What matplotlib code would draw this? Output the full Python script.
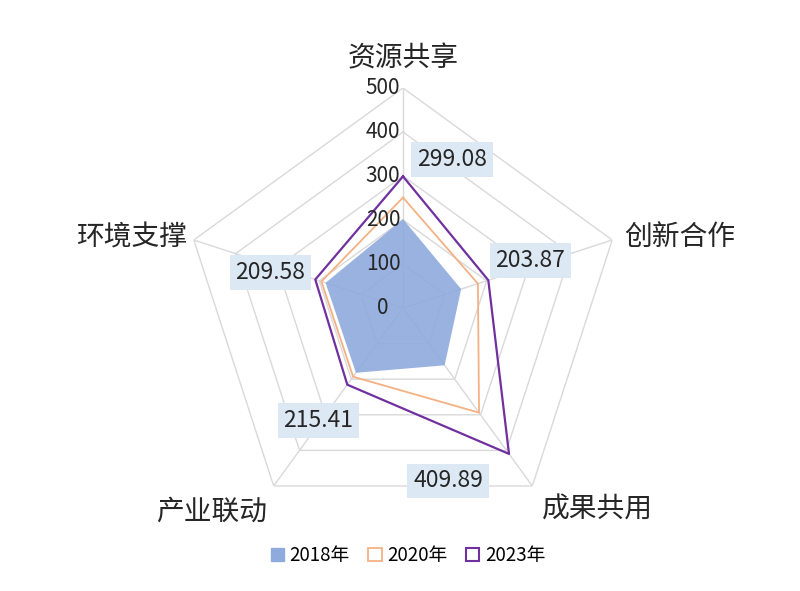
import numpy as np
import matplotlib
matplotlib.use('Agg')
import matplotlib.pyplot as plt
from matplotlib.patches import Patch

plt.rcParams['font.family'] = ['Noto Sans CJK SC', 'DejaVu Sans']

categories = ['资源共享', '创新合作', '成果共用', '产业联动', '环境支撑']
v2018 = [202, 139, 161, 182, 185]
v2020 = [251, 179, 294, 193, 195]
v2023 = [299.08, 203.87, 409.89, 215.41, 209.58]
ticks = [0, 100, 200, 300, 400, 500]
years = ['2018年', '2020年', '2023年']

# label box offsets (pixels) from each 2023 point
label_off = [(49, 17), (42, 20), (-61, -27), (-29, -36), (-45, 7)]
cat_off = [(0, 30), (68, 3), (65, -24), (-62, -26), (-62, 3)]

n = len(categories)
ang = np.arange(n) * 2 * np.pi / n
ang_c = np.append(ang, ang[0])

def closed(v):
    return np.append(v, v[0])

fig = plt.figure(figsize=(8, 5.91), dpi=100)
ax = fig.add_axes([0.22875, 0.1066, 0.55, 0.7445], polar=True)
ax.set_theta_offset(np.pi / 2)
ax.set_theta_direction(-1)
ax.set_ylim(0, 500)
ax.grid(False)
ax.spines['polar'].set_visible(False)
ax.set_xticks([])
ax.set_yticks([])

for t in ticks[1:]:
    ax.plot(ang_c, [t] * (n + 1), color='#d9d9d9', lw=1, zorder=1)
for a in ang:
    ax.plot([a, a], [0, 500], color='#d9d9d9', lw=1, zorder=1)

ax.fill(ang_c, closed(v2018), color='#8faadc', alpha=0.9, zorder=2, lw=0)
ax.plot(ang_c, closed(v2020), color='#f4b183', lw=1.3, zorder=3)
ax.plot(ang_c, closed(v2023), color='#7030a0', lw=1.6, zorder=4)

for t in ticks:
    ax.annotate(str(t), (0, t), xytext=(-20, 0), textcoords='offset pixels',
                ha='center', va='center', fontsize=15, color='#262626', zorder=5)

for i in range(n):
    ax.annotate(f'{v2023[i]:.2f}', (ang[i], v2023[i]), xytext=label_off[i],
                textcoords='offset pixels', ha='center', va='center',
                fontsize=16.5, color='#262626', zorder=6,
                bbox=dict(boxstyle='square,pad=0.25', fc='#dde8f5', ec='none'))
    ax.annotate(categories[i], (ang[i], 500), xytext=cat_off[i],
                textcoords='offset pixels', ha='center', va='center',
                fontsize=20, color='#262626')

handles = [Patch(fc='#8faadc', ec='#8faadc'),
           Patch(fc='white', ec='#f4b183', lw=1.3),
           Patch(fc='white', ec='#7030a0', lw=1.5)]
fig.legend(handles, years, loc='center', bbox_to_anchor=(0.51, 0.06), ncol=3,
           frameon=False, fontsize=13.5, handlelength=0.7, handleheight=0.7,
           handletextpad=0.3, columnspacing=1.0)

fig.savefig('out.png', dpi=100, facecolor='white')
